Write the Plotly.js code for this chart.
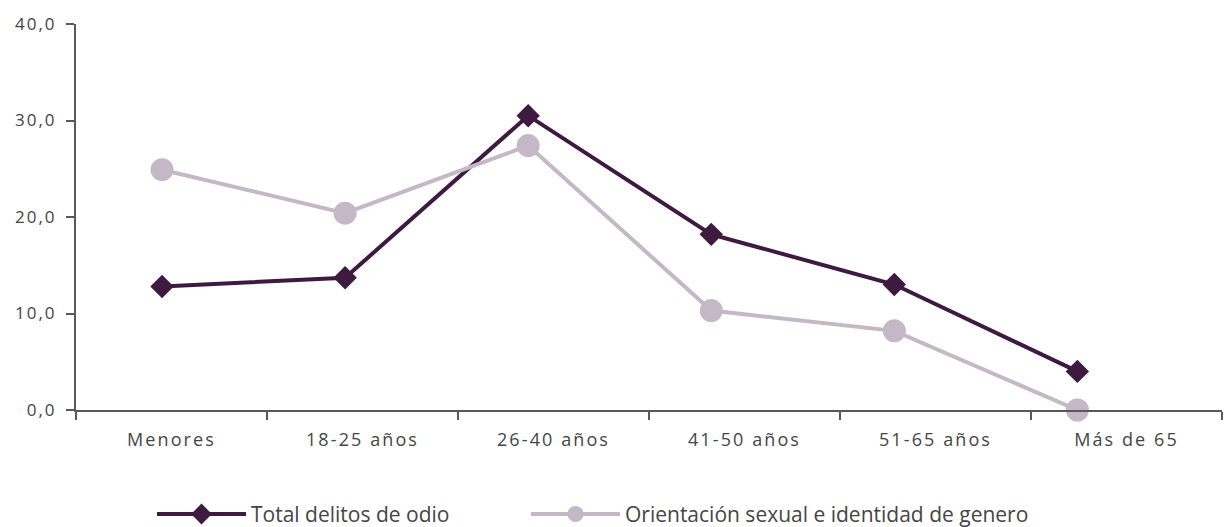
<!DOCTYPE html>
<html>
<head>
<meta charset="utf-8">
<script src="https://cdn.plot.ly/plotly-3.0.1.min.js"></script>
<style>
html,body{margin:0;padding:0;background:#fff;}
#chart{width:1226px;height:527px;}
#chart .xtick text{letter-spacing:2.1px;}
#chart .ytick text{letter-spacing:2px;}
</style>
</head>
<body>
<div id="chart"></div>
<script>
var categories = ["Menores", "18-25 años", "26-40 años", "41-50 años", "51-65 años", "Más de 65"];
var totalDelitos = [12.8, 13.7, 30.5, 18.2, 13.0, 4.0];
var orientacion = [24.9, 20.4, 27.4, 10.3, 8.2, 0.0];
var yTicks = [0, 10, 20, 30, 40];
var seriesNames = ["Total delitos de odio", "Orientación sexual e identidad de genero"];

var pointIndex = categories.map(function(c, i){ return i; });
var dark = "#3f1a40", light = "#c5b8c6", axisCol = "#595959", textCol = "#454545";
var font = "Open Sans, Noto Sans, sans-serif";

var traces = [
  {x: categories, y: categories.map(function(){return null;}), type: "scatter", mode: "lines",
   xaxis: "x", yaxis: "y", showlegend: false, hoverinfo: "skip"},
  {x: pointIndex, y: totalDelitos, name: seriesNames[0], type: "scatter", mode: "lines+markers",
   xaxis: "x2", yaxis: "y", cliponaxis: false, legend: "legend",
   line: {color: dark, width: 4}, marker: {symbol: "diamond", size: 18, color: dark}},
  {x: pointIndex, y: orientacion, name: seriesNames[1], type: "scatter", mode: "lines+markers",
   xaxis: "x2", yaxis: "y", cliponaxis: false, legend: "legend2",
   line: {color: light, width: 4}, marker: {symbol: "circle", size: 23, color: light}}
];

var legendBase = {orientation: "h", xref: "container", yref: "container", y: 0.024,
                  xanchor: "left", yanchor: "middle", font: {size: 21, color: textCol},
                  itemwidth: 89, bgcolor: "rgba(0,0,0,0)"};

var layout = {
  width: 1226, height: 527,
  margin: {l: 76, r: 4, t: 24, b: 117},
  paper_bgcolor: "#fff", plot_bgcolor: "#fff",
  separators: ",.",
  font: {family: font, color: textCol, size: 17},
  showlegend: true,
  legend: Object.assign({}, legendBase, {x: 152 / 1226}),
  legend2: Object.assign({}, legendBase, {x: 526 / 1226}),
  xaxis: {type: "category", categoryarray: categories, categoryorder: "array",
          range: [-0.5, 5.5], tickson: "boundaries", ticks: "outside", ticklen: 8,
          tickwidth: 2, tickcolor: axisCol, showline: true, linecolor: axisCol, linewidth: 2,
          ticklabelstandoff: 12,
          showgrid: false, zeroline: false, tickfont: {size: 18, color: textCol}, fixedrange: true},
  xaxis2: {overlaying: "x", range: [-0.47, 5.79], visible: false, showgrid: false, zeroline: false},
  yaxis: {range: [0, 40], tickvals: yTicks, tickformat: ".1f", ticks: "outside", ticklen: 8,
          tickwidth: 2, tickcolor: axisCol, showline: true, linecolor: axisCol, linewidth: 2,
          ticklabelstandoff: 6,
          showgrid: false, zeroline: false, tickfont: {size: 17, color: textCol}}
};

Plotly.newPlot("chart", traces, layout, {displayModeBar: false, staticPlot: true});
</script>
</body>
</html>
